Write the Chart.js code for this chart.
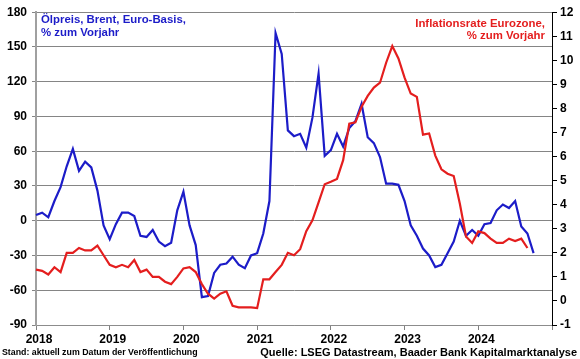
<!DOCTYPE html>
<html>
<head>
<meta charset="utf-8">
<script src="https://cdn.jsdelivr.net/npm/chart.js@4.4.1/dist/chart.umd.min.js"></script>
<style>
html, body { margin: 0; padding: 0; background: #fff; }
#wrap { position: relative; width: 580px; height: 359px; font-family: Arial, "Liberation Sans", sans-serif; font-weight: bold; }
canvas { position: absolute; left: 0; top: 0; }
.t { position: absolute; white-space: nowrap; }
</style>
</head>
<body>
<div id="wrap">
  <canvas id="grafico" width="580" height="359"></canvas>
  <div class="t" style="left:41px;top:13px;color:#1c1cc8;font-size:11.4px;line-height:13px">Ölpreis, Brent, Euro-Basis,<br>% zum Vorjahr</div>
  <div class="t" style="right:35px;top:17px;color:#e41e1e;font-size:11.4px;line-height:12px;text-align:right">Inflationsrate Eurozone,<br>% zum Vorjahr</div>
  <div class="t" style="left:2px;top:347px;font-size:8.8px;line-height:10px">Stand: aktuell zum Datum der Veröffentlichung</div>
  <div class="t" style="right:3px;top:346px;font-size:11px;line-height:12px">Quelle: LSEG Datastream, Baader Bank Kapitalmarktanalyse</div>
</div>
<script>
// === Daten (Monatswerte, Dez 2017 bis Sep 2024) ===
const jahre = ['2018', '2019', '2020', '2021', '2022', '2023', '2024'];
const anzahlMonate = 85; // Achse: Dez 2017 ... Dez 2024

// Ölpreis Brent in Euro, % zum Vorjahr (linke Achse)
const oelpreis = [
    5, 7, 3, 17, 29, 47, 62, 43, 51, 46, 26, -4,
    -16, -3, 7, 7, 4, -13, -14, -8, -18, -22, -19, 9,
    25, -4, -21, -66, -65, -45, -38, -37, -31, -38, -41, -30,
    -28, -11, 17, 162, 144, 78, 73, 75, 63, 89, 127, 56,
    61, 75, 64, 80, 86, 101, 72, 67, 55, 32, 32, 31,
    17, -4, -13, -24, -30, -40, -38, -28, -18, 0, -13, -8,
    -13, -3, -2, 9, 14, 11, 17, -5, -11, -28
];

// Inflationsrate Eurozone, % zum Vorjahr (rechte Achse)
const inflation = [
    1.3, 1.25, 1.1, 1.4, 1.2, 2.0, 2.0, 2.2, 2.1, 2.1, 2.3, 1.9,
    1.5, 1.4, 1.5, 1.4, 1.7, 1.2, 1.3, 1.0, 1.0, 0.8, 0.7, 1.0,
    1.35, 1.4, 1.2, 0.7, 0.3, 0.1, 0.3, 0.4, -0.2, -0.27, -0.27, -0.27,
    -0.3, 0.9, 0.9, 1.2, 1.5, 2.0, 1.9, 2.15, 2.9, 3.35, 4.1, 4.85,
    4.95, 5.07, 5.85, 7.37, 7.42, 8.07, 8.52, 8.87, 9.07, 9.9, 10.59, 10.08,
    9.28, 8.62, 8.48, 6.91, 6.96, 6.04, 5.47, 5.29, 5.19, 4.04, 2.68, 2.41,
    2.89, 2.82, 2.59, 2.41, 2.41, 2.59, 2.49, 2.59, 2.2
];

const monate = Array.from({ length: anzahlMonate }, (_, i) => i);
const schrift = { family: 'Arial, "Liberation Sans", sans-serif', size: 12, weight: 'bold' };

const ctx = document.getElementById('grafico').getContext('2d');
new Chart(ctx, {
    type: 'line',
    data: {
        labels: monate,
        datasets: [
            {
                label: 'Inflationsrate Eurozone',
                data: inflation,
                yAxisID: 'yInfl',
                borderColor: '#e41e1e',
                borderWidth: 2.2,
                pointRadius: 0,
                tension: 0
            },
            {
                label: 'Ölpreis, Brent, Euro-Basis',
                data: oelpreis,
                yAxisID: 'yOel',
                borderColor: '#1c1cc8',
                borderWidth: 2.2,
                pointRadius: 0,
                tension: 0
            }
        ]
    },
    options: {
        responsive: false,
        animation: false,
        layout: { padding: { top: 11, left: 0, right: 0, bottom: 0 } },
        plugins: {
            legend: { display: false },
            tooltip: { enabled: false }
        },
        scales: {
            x: {
                type: 'category',
                offset: false,
                grid: {
                    drawOnChartArea: false,
                    tickLength: 5,
                    color: (c) => (c.index % 12 === 0 ? '#808080' : 'rgba(0,0,0,0)')
                },
                border: { color: '#8c8c8c', width: 1 },
                ticks: {
                    autoSkip: false,
                    maxRotation: 0,
                    minRotation: 0,
                    padding: 2,
                    labelOffset: 3,
                    color: '#000',
                    font: schrift,
                    callback: (v, i) => (i % 12 === 0 ? (jahre[i / 12] || '') : '')
                },
                afterFit: (s) => { s.height = 34; }
            },
            yOel: {
                position: 'left',
                min: -90,
                max: 180,
                ticks: { stepSize: 30, color: '#000', font: schrift, padding: 5 },
                grid: { color: '#858585', lineWidth: 1, tickLength: 4 },
                border: { color: '#a0a0a0', width: 2 },
                afterFit: (s) => { s.width = 36; }
            },
            yInfl: {
                position: 'right',
                min: -1,
                max: 12,
                ticks: { stepSize: 1, color: '#000', font: schrift, padding: 3 },
                grid: { drawOnChartArea: false, tickLength: 5, color: '#000' },
                border: { color: '#000', width: 1 },
                afterFit: (s) => { s.width = 28; }
            }
        }
    }
});
</script>
</body>
</html>
